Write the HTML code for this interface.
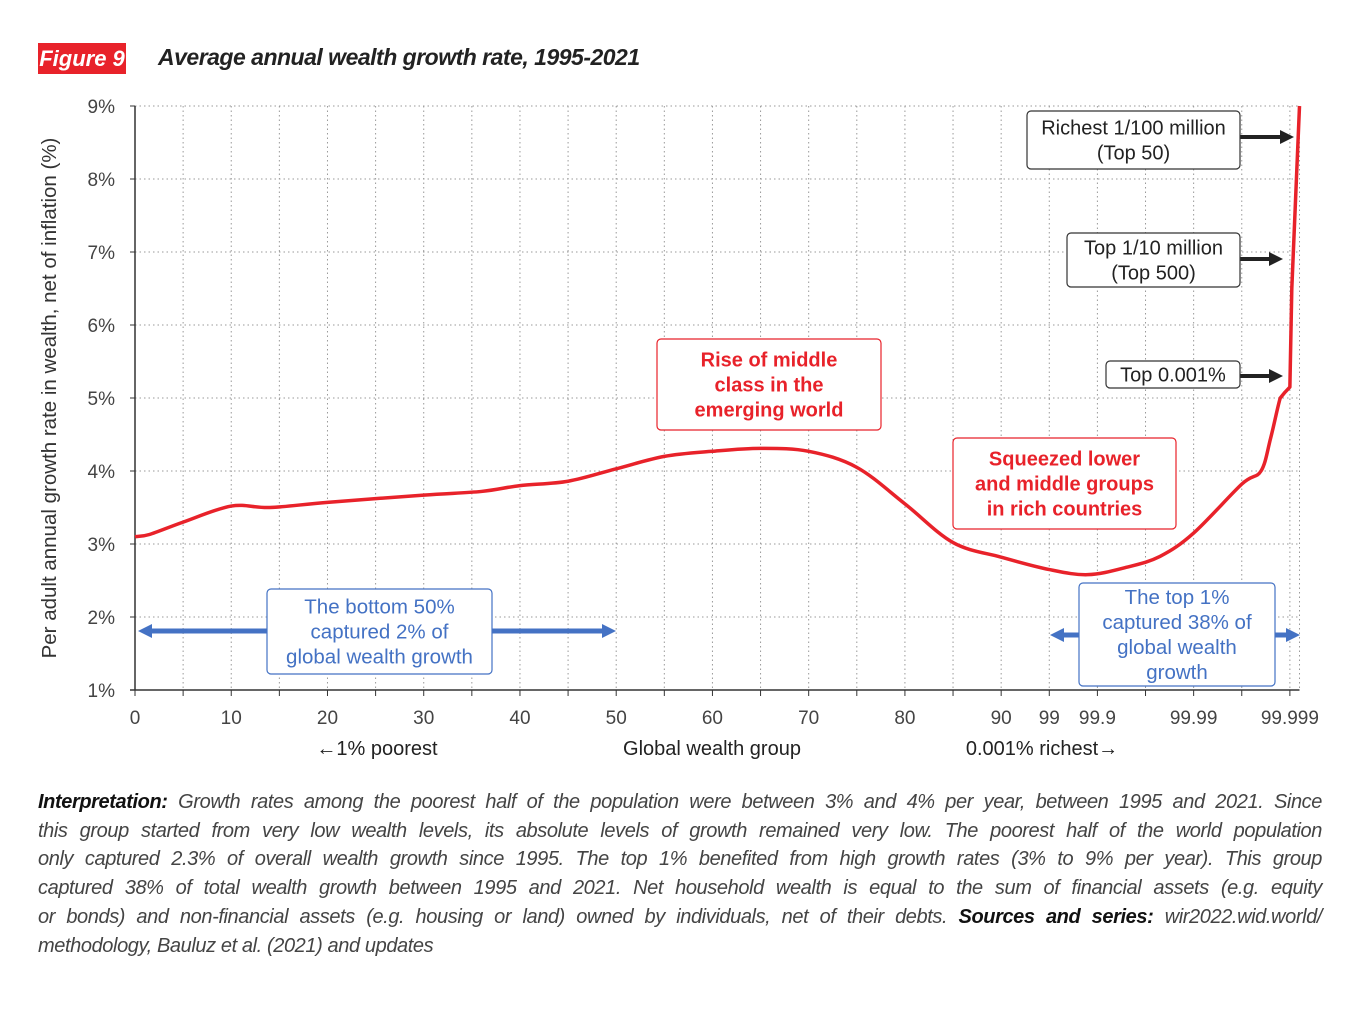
<!DOCTYPE html>
<html><head><meta charset="utf-8"><style>
body{margin:0;background:#fff;width:1350px;height:1016px;overflow:hidden;font-family:"Liberation Sans",sans-serif;}
.note{position:absolute;left:38px;top:788px;width:1284px;font-size:20px;line-height:28.7px;font-style:italic;color:#444;letter-spacing:-0.4px}
.note div{text-align:justify;text-align-last:justify;white-space:nowrap}
.note div.last{text-align-last:left}
.note b{color:#111}
</style></head><body>
<div style="position:absolute;left:38px;top:43px;width:88px;height:31px;background:#e8222a;color:#fff;font-weight:bold;font-style:italic;font-size:22px;line-height:31px;text-align:center">Figure 9</div>
<div style="position:absolute;left:158px;top:44px;font-weight:bold;font-style:italic;font-size:23px;color:#222;letter-spacing:-0.5px">Average annual wealth growth rate, 1995-2021</div>
<svg id="chart" width="1350" height="780" style="position:absolute;left:0;top:0" font-family="Liberation Sans, sans-serif"></svg>
<div class="note">
<div><b>Interpretation:</b> Growth rates among the poorest half of the population were between 3% and 4% per year, between 1995 and 2021. Since</div>
<div>this group started from very low wealth levels, its absolute levels of growth remained very low. The poorest half of the world population</div>
<div>only captured 2.3% of overall wealth growth since 1995. The top 1% benefited from high growth rates (3% to 9% per year). This group</div>
<div>captured 38% of total wealth growth between 1995 and 2021. Net household wealth is equal to the sum of financial assets (e.g. equity</div>
<div>or bonds) and non-financial assets (e.g. housing or land) owned by individuals, net of their debts. <b>Sources and series:</b> wir2022.wid.world/</div>
<div class="last">methodology, Bauluz et al. (2021) and updates</div>
</div>
<script>
const xTickLabels=["0","10","20","30","40","50","60","70","80","90","99","99.9","99.99","99.999"];
const xTickIdx=[0,2,4,6,8,10,12,14,16,18,19,20,22,24];
const yTicks=[1,2,3,4,5,6,7,8,9];
const curveIdx=[0,0.3,1,2,2.8,4,6,7.2,8,9,10,11,12,13,14,15,16,17,18,19,19.8,20.6,21.3,22,23,23.4,23.6,23.8,23.9,24.0,24.04,24.2];
const curveVal=[3.1,3.13,3.3,3.52,3.5,3.57,3.67,3.72,3.8,3.86,4.03,4.2,4.27,4.31,4.27,4.05,3.55,3.02,2.82,2.65,2.58,2.68,2.83,3.15,3.82,4.0,4.45,5.0,5.08,5.15,6.5,9.0];
const NS="http://www.w3.org/2000/svg";
const svg=document.getElementById('chart');
const X0=135,DX=48.12,Y1=690,DY=73;
const xs=i=>X0+i*DX, ys=v=>Y1-(v-1)*DY;
function mk(t,a,p){const e=document.createElementNS(NS,t);for(const k in a)e.setAttribute(k,a[k]);(p||svg).appendChild(e);return e;}
for(let i=1;i<=24;i++){const l=mk('line',{x1:xs(i),x2:xs(i),y1:ys(9),y2:Y1,stroke:'#999','stroke-dasharray':'1.5 3'});
}
mk('line',{x1:xs(24.2),x2:xs(24.2),y1:ys(9),y2:Y1,stroke:'#999','stroke-dasharray':'1.5 3'});
yTicks.forEach(v=>{
 if(v>1){const g=mk('line',{x1:X0,x2:xs(24.2),y1:ys(v),y2:ys(v),stroke:'#999','stroke-dasharray':'1.5 3'});
 }
 mk('line',{x1:X0-5,x2:X0,y1:ys(v),y2:ys(v),stroke:'#333'});
 const t=mk('text',{x:115,y:ys(v)+7,'text-anchor':'end','font-size':19,fill:'#444'});t.textContent=v+'%';
 
});
mk('line',{x1:X0,x2:X0,y1:ys(9),y2:Y1,stroke:'#333','stroke-width':1.5});
mk('line',{x1:X0-5,x2:xs(24.2),y1:Y1,y2:Y1,stroke:'#333','stroke-width':1.5});
for(let i=0;i<=24;i++)mk('line',{x1:xs(i),x2:xs(i),y1:Y1,y2:Y1+6,stroke:'#333'});
xTickLabels.forEach((s,k)=>{const t=mk('text',{x:xs(xTickIdx[k]),y:724,'text-anchor':'middle','font-size':19,fill:'#444'});t.textContent=s;
 });
[[377,'←1% poorest','x-sub-left'],[712,'Global wealth group','x-axis-title'],[1042,'0.001% richest→','x-sub-right']].forEach(a=>{
 const t=mk('text',{x:a[0],y:755,'text-anchor':'middle','font-size':20,fill:'#222'});t.textContent=a[1];
 });
const yt=mk('text',{x:0,y:0,transform:'translate(56,398) rotate(-90)','text-anchor':'middle','font-size':20.5,fill:'#333'});
yt.textContent='Per adult annual growth rate in wealth, net of inflation (%)';

const P=curveIdx.map((c,i)=>[xs(c),ys(curveVal[i])]);
const linFrom=curveIdx.indexOf(23.8);
let d='M'+P[0][0]+','+P[0][1];
for(let i=0;i<P.length-1;i++){const p0=P[Math.max(0,i-1)],p1=P[i],p2=P[i+1],p3=P[Math.min(P.length-1,i+2)];
 if(i>=linFrom){d+=` L${p2[0]},${p2[1]}`;continue;}
 d+=` C${p1[0]+(p2[0]-p0[0])/6},${p1[1]+(p2[1]-p0[1])/6} ${p2[0]-(p3[0]-p1[0])/6},${p2[1]-(p3[1]-p1[1])/6} ${p2[0]},${p2[1]}`;}
const cv=mk('path',{d:d,fill:'none',stroke:'#e8222a','stroke-width':3.5,'stroke-linejoin':'round'});

function box(name,x,y,w,h,lines,color,border,bold,fs,lh){
 const g=mk('g',{});
 mk('rect',{x:x,y:y,width:w,height:h,rx:4,fill:'#fff',stroke:border,'stroke-width':1.2},g);
 const top=y+(h-lines.length*lh)/2+lh*0.78;
 lines.forEach((s,i)=>{const t=mk('text',{x:x+w/2,y:top+i*lh,'text-anchor':'middle','font-size':fs,fill:color,'font-weight':bold?'bold':'normal'},g);t.textContent=s;});
}
function arrow(name,x1,x2,y,color,w){
 const g=mk('g',{});
 const dir=x2>x1?1:-1;
 mk('line',{x1:x1,x2:x2-dir*12,y1:y,y2:y,stroke:color,'stroke-width':w},g);
 mk('polygon',{points:`${x2},${y} ${x2-dir*14},${y-7} ${x2-dir*14},${y+7}`,fill:color},g);
}
arrow('arrow-top50',1240,1294,137,'#222',4);
arrow('arrow-top500',1240,1283,259,'#222',4);
arrow('arrow-top0001',1240,1283,376,'#222',4);
box('label-top50',1027,111,213,58,['Richest 1/100 million','(Top 50)'],'#222','#333',false,20,25);
box('label-top500',1067,233,173,54,['Top 1/10 million','(Top 500)'],'#222','#333',false,20,25);
box('label-top0001',1106,361,134,27,['Top 0.001%'],'#222','#333',false,20,25);
arrow('arrow-bottom50-left',268,138,631,'#4472c4',5);
arrow('arrow-bottom50-right',492,616,631,'#4472c4',5);
box('label-bottom50',267,589,225,85,['The bottom 50%','captured 2% of','global wealth growth'],'#4472c4','#4472c4',false,20.5,25);
arrow('arrow-top1-left',1079,1050,635,'#4472c4',5);
arrow('arrow-top1-right',1275,1300,635,'#4472c4',5);
box('label-top1',1079,583,196,103,['The top 1%','captured 38% of','global wealth','growth'],'#4472c4','#4472c4',false,20.5,25);
box('label-middle-class',657,339,224,91,['Rise of middle','class in the','emerging world'],'#e8222a','#e8222a',true,20,25);
box('label-squeezed',953,438,223,91,['Squeezed lower','and middle groups','in rich countries'],'#e8222a','#e8222a',true,20,25);
</script>
</body></html>
